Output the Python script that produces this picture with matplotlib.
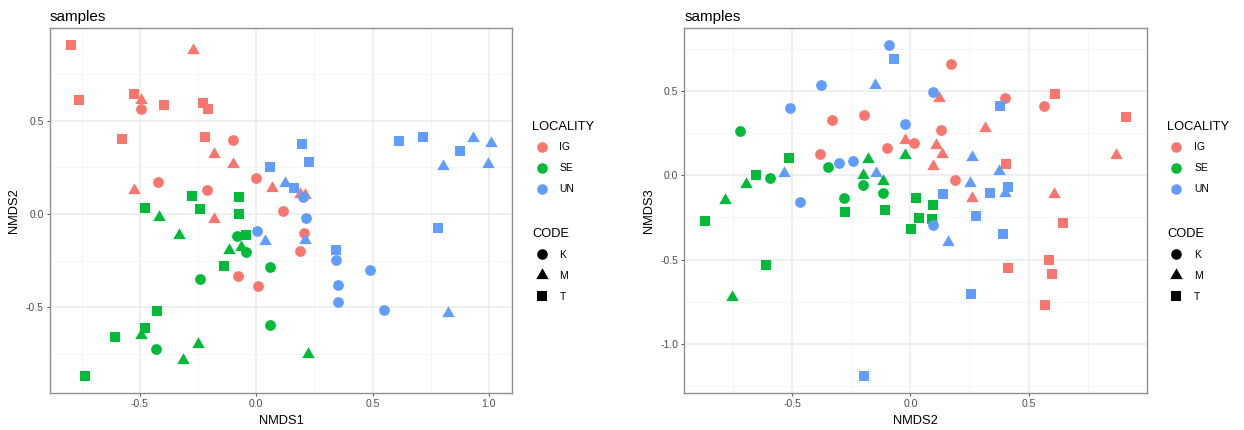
import numpy as np
import matplotlib
matplotlib.use("Agg")
import matplotlib.pyplot as plt
from matplotlib.lines import Line2D

plt.rcParams['font.family'] = ['Liberation Sans', 'DejaVu Sans']
plt.rcParams['axes.unicode_minus'] = False

# ggplot hue palette for the three localities
localities = ['IG', 'SE', 'UN']
loc_colors = {'IG': '#F8766D', 'SE': '#00BA38', 'UN': '#619CFF'}
codes = ['K', 'M', 'T']

# NMDS1 vs NMDS2
nmds1 = [-0.796, -0.762, -0.527, -0.398, -0.228, -0.207, -0.579, -0.220,
         -0.271, -0.494, -0.181, -0.100, -0.524, 0.069, 0.190, 0.210, -0.181,
         -0.494, -0.102, 0.000, -0.421, -0.211, 0.115, 0.205, 0.187, -0.077, 0.006,
         -0.278, -0.072, -0.479, -0.240, -0.074, -0.044, -0.139, -0.427, -0.476, -0.609, -0.735,
         -0.420, -0.333, -0.118, -0.067, -0.497, -0.252, -0.314, 0.224,
         -0.082, -0.042, 0.057, -0.242, -0.430, 0.057,
         0.059, 0.198, 0.227, 0.162, 0.613, 0.716, 0.875, 0.343, 0.780,
         0.124, 0.930, 1.009, 0.803, 0.998, 0.038, 0.211, 0.825,
         0.203, 0.215, 0.005, 0.343, 0.487, 0.351, 0.353, 0.550]
nmds2_a = [0.909, 0.612, 0.642, 0.584, 0.594, 0.566, 0.402, 0.416,
           0.879, 0.612, 0.320, 0.267, 0.130, 0.142, 0.110, 0.100, -0.025,
           0.562, 0.400, 0.192, 0.172, 0.131, 0.016, -0.100, -0.198, -0.333, -0.385,
           0.096, 0.091, 0.034, 0.025, 0.000, -0.110, -0.280, -0.518, -0.612, -0.659, -0.870,
           -0.016, -0.114, -0.194, -0.176, -0.648, -0.694, -0.780, -0.749,
           -0.118, -0.203, -0.285, -0.349, -0.723, -0.596,
           0.253, 0.377, 0.277, 0.139, 0.393, 0.413, 0.336, -0.194, -0.073,
           0.166, 0.406, 0.379, 0.260, 0.267, -0.146, -0.141, -0.531,
           0.094, -0.020, -0.093, -0.244, -0.301, -0.379, -0.472, -0.513]
locality_a = ['IG'] * 27 + ['SE'] * 25 + ['UN'] * 25
code_a = (['T'] * 8 + ['M'] * 9 + ['K'] * 10 +
          ['T'] * 11 + ['M'] * 8 + ['K'] * 6 +
          ['T'] * 9 + ['M'] * 8 + ['K'] * 8)

# NMDS2 vs NMDS3
nmds2_b = [0.173, -0.330, -0.196, 0.129, 0.017, -0.100, -0.383, 0.190, 0.401, 0.563,
           0.122, -0.023, 0.107, 0.134, 0.096, 0.317, 0.870, 0.260, 0.605,
           0.613, 0.910, 0.404, 0.645, 0.584, 0.414, 0.597, 0.567,
           -0.721, -0.346, -0.594, -0.200, -0.116, -0.280,
           -0.021, -0.177, -0.199, -0.117, -0.694, -0.782, -0.755,
           -0.514, -0.654, 0.025, -0.278, -0.109, 0.096, -0.866, 0.035, 0.090, 0.001, -0.609,
           -0.090, -0.378, 0.096, -0.509, -0.023, -0.241, -0.300, -0.466, 0.094,
           -0.150, -0.534, -0.145, 0.259, 0.374, 0.253, 0.400, 0.158,
           -0.071, 0.377, 0.138, 0.336, 0.412, 0.276, 0.393, 0.255, -0.196]
nmds3 = [0.660, 0.326, 0.360, 0.271, 0.190, 0.164, 0.129, -0.030, 0.461, 0.411,
         0.457, 0.208, 0.180, 0.125, 0.055, 0.279, 0.120, -0.132, -0.111,
         0.482, 0.348, 0.065, -0.285, -0.502, -0.552, -0.583, -0.771,
         0.263, 0.052, -0.016, -0.055, -0.103, -0.136,
         0.119, 0.099, 0.000, -0.034, -0.049, -0.144, -0.720,
         0.105, 0.000, -0.134, -0.218, -0.204, -0.177, -0.273, -0.255, -0.257, -0.316, -0.532,
         0.777, 0.536, 0.494, 0.403, 0.308, 0.085, 0.071, -0.158, -0.295,
         0.534, 0.012, 0.012, 0.109, 0.024, -0.047, -0.107, -0.393,
         0.692, 0.411, -0.113, -0.107, -0.069, -0.239, -0.346, -0.704, -1.194]
locality_b = ['IG'] * 27 + ['SE'] * 24 + ['UN'] * 26
code_b = (['K'] * 10 + ['M'] * 9 + ['T'] * 8 +
          ['K'] * 6 + ['M'] * 7 + ['T'] * 11 +
          ['K'] * 9 + ['M'] * 8 + ['T'] * 9)

# ggplot shapes 16 / 17 / 15
markers = {'K': 'o', 'M': (3, 0, 0), 'T': 's'}
sizes = {'K': 60, 'M': 108, 'T': 58}

grid_col = '#EBEBEB'
border_col = '#8f8f8f'
text_col = '#4D4D4D'


def draw_panel(ax, x, y, loc, code, xlab, ylab, yminor):
    x = np.array(x)
    y = np.array(y)
    loc = np.array(loc)
    code = np.array(code)
    for l in localities:
        for c in codes:
            m = (loc == l) & (code == c)
            ax.scatter(x[m], y[m], s=sizes[c], marker=markers[c],
                       color=loc_colors[l], linewidths=0, zorder=3)
    # ggplot-style 5% expansion
    xr = x.max() - x.min()
    yr = y.max() - y.min()
    xlim = (x.min() - 0.05 * xr, x.max() + 0.05 * xr)
    ylim = (y.min() - 0.05 * yr, y.max() + 0.05 * yr)

    ax.set_xticks([-0.5, 0.0, 0.5, 1.0])
    ax.set_xticks([-0.75, -0.25, 0.25, 0.75], minor=True)
    ax.set_yticks([t for t in [-1.0, -0.5, 0.0, 0.5] if ylim[0] < t])
    ax.set_yticks(yminor, minor=True)
    ax.set_xticklabels([f'{t:.1f}' for t in ax.get_xticks()])
    ax.set_yticklabels([f'{t:.1f}' for t in ax.get_yticks()])
    ax.set_xlim(*xlim)
    ax.set_ylim(*ylim)

    ax.grid(True, which='major', color=grid_col, linewidth=1.1, zorder=0)
    ax.grid(True, which='minor', color='#F4F4F4', linewidth=0.6, zorder=0)
    ax.set_axisbelow(True)
    for s in ax.spines.values():
        s.set_color(border_col)
        s.set_linewidth(1.0)
    ax.tick_params(which='major', length=2.5, width=0.6, color='#333333',
                   labelsize=7.5, labelcolor=text_col, pad=2)
    ax.tick_params(which='minor', length=0)
    ax.set_xlabel(xlab, fontsize=9.3, labelpad=4)
    ax.set_ylabel(ylab, fontsize=9.3, labelpad=4)
    ax.set_title('samples', loc='left', fontsize=11, pad=5)

    loc_handles = [Line2D([], [], linestyle='', marker='o', markersize=7.6,
                          markeredgewidth=0, color=loc_colors[l], label=l)
                   for l in localities]
    code_handles = [Line2D([], [], linestyle='', marker=markers[c],
                           markersize=7.6 if c != 'M' else 10.4,
                           markeredgewidth=0, color='black', label=c)
                    for c in codes]
    common = dict(frameon=False, loc='upper left', borderpad=0,
                  handlelength=1.8, handletextpad=0.8, labelspacing=1.05,
                  fontsize=7.5, title_fontsize=9.3, alignment='left',
                  borderaxespad=0)
    leg1 = ax.legend(handles=loc_handles, title='LOCALITY',
                     bbox_to_anchor=(1.044, 0.746), **common)
    leg1._legend_box.sep = 7
    ax.add_artist(leg1)
    leg2 = ax.legend(handles=code_handles, title='CODE',
                     bbox_to_anchor=(1.044, 0.452), **common)
    leg2._legend_box.sep = 7


fig = plt.figure(figsize=(12.44, 4.30), dpi=100)
ax1 = fig.add_axes([0.0402, 0.086, 0.3714, 0.849])
ax2 = fig.add_axes([0.5501, 0.086, 0.3717, 0.849])

draw_panel(ax1, nmds1, nmds2_a, locality_a, code_a, 'NMDS1', 'NMDS2',
           [-0.75, -0.25, 0.25, 0.75])
draw_panel(ax2, nmds2_b, nmds3, locality_b, code_b, 'NMDS2', 'NMDS3',
           [-1.25, -0.75, -0.25, 0.25, 0.75])

fig.savefig('out.png', dpi=100)
